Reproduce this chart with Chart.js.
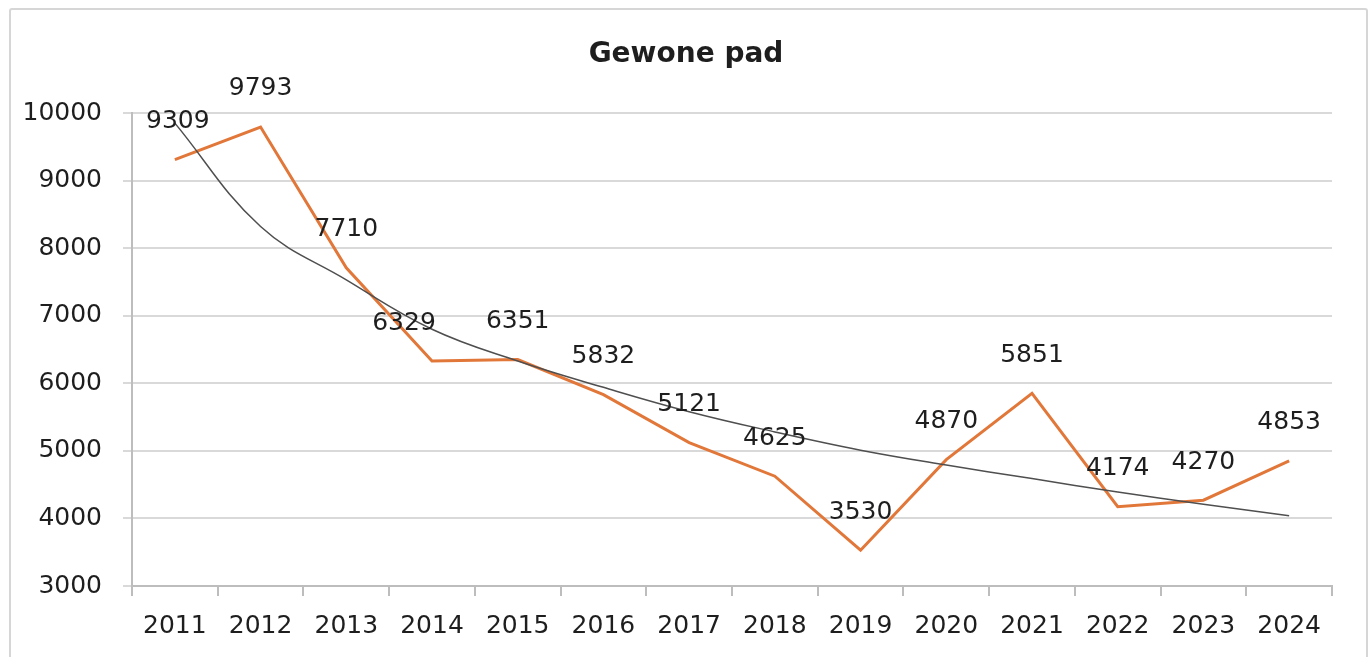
<!DOCTYPE html>
<html>
<head>
<meta charset="utf-8">
<title>Gewone pad</title>
<script src="https://cdn.jsdelivr.net/npm/chart.js@4/dist/chart.umd.min.js"></script>
<style>
  body { margin: 0; background: #fff; }
  #frame {
    position: absolute; left: 9px; top: 8px; width: 1355px; height: 720px;
    border: 2px solid #d6d6d6; border-radius: 3px;
  }
  #padChart { position: absolute; left: 0; top: 0; }
</style>
</head>
<body>
<div id="frame"></div>
<canvas id="padChart" width="1370" height="657"></canvas>
<script>
  let years = ["2011","2012","2013","2014","2015","2016","2017","2018","2019","2020","2021","2022","2023","2024"];
  let counts = [9309, 9793, 7710, 6329, 6351, 5832, 5121, 4625, 3530, 4870, 5851, 4174, 4270, 4853];
  let trend = [9850, 8320, 7530, 6800, 6330, 5940, 5580, 5280, 5010, 4790, 4590, 4390, 4210, 4040];
  let yTicks = [3000, 4000, 5000, 6000, 7000, 8000, 9000, 10000];

  let fontFamily = "'DejaVu Sans', 'Liberation Sans', Arial, sans-serif";
  let textColor = '#1e1e1e';
  // small sideways nudges so neighbouring labels don't collide
  let labelShiftX = [3, 0, 0, -28, 0, 0, 0, 0, 0, 0, 0, 0, 0, 0];

  /**************Title + value labels**************/
  const padLabels = {
    id: 'padLabels',
    afterDatasetsDraw(chart) {
      let ctx = chart.ctx;
      let meta = chart.getDatasetMeta(1);
      ctx.save();
      ctx.fillStyle = textColor;
      ctx.font = "25px " + fontFamily;
      ctx.textAlign = 'center';
      ctx.textBaseline = 'middle';
      for (let i = 0; i < meta.data.length; i++) {
        let pt = meta.data[i];
        ctx.fillText(String(counts[i]), pt.x + labelShiftX[i], pt.y - 38);
      }
      ctx.font = "bold 28px " + fontFamily;
      ctx.fillText("Gewone pad", 686, 55);
      ctx.restore();
    }
  };

  var ctx = document.getElementById("padChart").getContext("2d");
  var padChart = new Chart(ctx, {
    type: "line",
    data: {
      labels: years,
      datasets: [
        { label: "Trend",
          data: trend,
          borderColor: "#4f4f4f",
          borderWidth: 1.5,
          pointRadius: 0,
          tension: 0.4,
          fill: false },
        { label: "Gewone pad",
          data: counts,
          borderColor: "#e2773a",
          borderWidth: 3,
          pointRadius: 0,
          tension: 0,
          fill: false }
      ]
    },
    options: {
      responsive: false,
      animation: false,
      layout: { padding: { left: 0, right: 38, top: 113, bottom: 0 } },
      plugins: {
        legend: { display: false },
        title: { display: false },
        tooltip: { enabled: false }
      },
      scales: {
        x: {
          offset: true,
          grid: { offset: true, drawOnChartArea: false, drawTicks: true, tickLength: 10, color: '#bdbdbd', lineWidth: 2 },
          border: { color: '#bdbdbd', width: 2 },
          ticks: { color: textColor, font: { size: 25, family: fontFamily }, padding: 15, maxRotation: 0, autoSkip: false },
          afterFit: function(scale) { scale.height = 71; }
        },
        y: {
          min: 3000,
          max: 10000,
          afterBuildTicks: function(scale) { scale.ticks = yTicks.map(v => ({ value: v })); },
          grid: { color: '#d9d9d9', lineWidth: 2, tickLength: 9 },
          border: { color: '#bdbdbd', width: 2 },
          ticks: {
            color: textColor, font: { size: 25, family: fontFamily }, padding: 21,
            callback: function(value) { return String(value); }
          },
          afterFit: function(scale) { scale.width = 132; }
        }
      }
    },
    plugins: [padLabels]
  });
</script>
</body>
</html>
